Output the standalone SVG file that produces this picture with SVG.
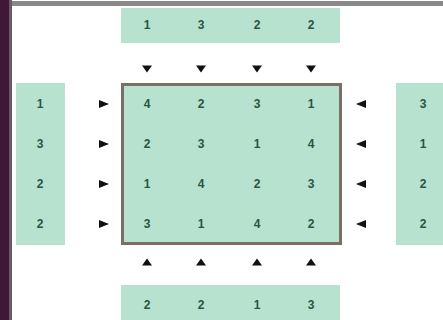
<svg xmlns="http://www.w3.org/2000/svg" width="443" height="320" viewBox="0 0 443 320">
<style>
.strip{fill:#b7e2d0}
.t{font-family:"Liberation Sans",Arial,sans-serif;font-size:12px;font-weight:bold;fill:#2a5540;text-anchor:middle;dominant-baseline:central}
.ar{fill:#111}
</style>
<defs>
<path id="ad" d="M-5,-3.5 L5,-3.5 L0,3.5 Z"/>
<path id="au" d="M-5,3.5 L5,3.5 L0,-3.5 Z"/>
<path id="ar" d="M-5,-4 L-5,4 L5,0 Z"/>
<path id="al" d="M5,-4 L5,4 L-5,0 Z"/>
</defs>
<rect width="443" height="320" fill="#ffffff"/>
<rect x="0" y="0" width="9" height="320" fill="#3e1836"/>
<rect x="9" y="0" width="3" height="320" fill="#6a5a66"/>
<rect x="12" y="1" width="431" height="5" fill="#8a8888"/>
<g id="top">
<rect class="strip" x="121" y="8" width="219" height="35"/>
<text class="t" x="147" y="25">1</text><text class="t" x="201" y="25">3</text><text class="t" x="257" y="25">2</text><text class="t" x="311" y="25">2</text>
</g>
<g id="left">
<rect class="strip" x="16" y="83" width="49" height="162"/>
<text class="t" x="40" y="104">1</text><text class="t" x="40" y="144">3</text><text class="t" x="40" y="184">2</text><text class="t" x="40" y="224">2</text>
</g>
<g id="right">
<rect class="strip" x="396" y="83" width="47" height="162"/>
<text class="t" x="423" y="104">3</text><text class="t" x="423" y="144">1</text><text class="t" x="423" y="184">2</text><text class="t" x="423" y="224">2</text>
</g>
<g id="bottom">
<rect class="strip" x="121" y="285" width="219" height="35"/>
<text class="t" x="147" y="305">2</text><text class="t" x="201" y="305">2</text><text class="t" x="257" y="305">1</text><text class="t" x="311" y="305">3</text>
</g>
<g id="grid">
<rect x="122.5" y="84.5" width="218" height="159" fill="#b7e2d0" stroke="#7a6e66" stroke-width="3"/>
<text class="t" x="147" y="104">4</text><text class="t" x="201" y="104">2</text><text class="t" x="257" y="104">3</text><text class="t" x="311" y="104">1</text>
<text class="t" x="147" y="144">2</text><text class="t" x="201" y="144">3</text><text class="t" x="257" y="144">1</text><text class="t" x="311" y="144">4</text>
<text class="t" x="147" y="184">1</text><text class="t" x="201" y="184">4</text><text class="t" x="257" y="184">2</text><text class="t" x="311" y="184">3</text>
<text class="t" x="147" y="224">3</text><text class="t" x="201" y="224">1</text><text class="t" x="257" y="224">4</text><text class="t" x="311" y="224">2</text>
</g>
<g id="connectors" class="ar">
<use href="#ad" x="147" y="69"/><use href="#ad" x="201" y="69"/><use href="#ad" x="257" y="69"/><use href="#ad" x="311" y="69"/>
<use href="#au" x="147" y="262"/><use href="#au" x="201" y="262"/><use href="#au" x="257" y="262"/><use href="#au" x="311" y="262"/>
<use href="#ar" x="104" y="104"/><use href="#ar" x="104" y="144"/><use href="#ar" x="104" y="184"/><use href="#ar" x="104" y="224"/>
<use href="#al" x="361" y="104"/><use href="#al" x="361" y="144"/><use href="#al" x="361" y="184"/><use href="#al" x="361" y="224"/>
</g>
</svg>
